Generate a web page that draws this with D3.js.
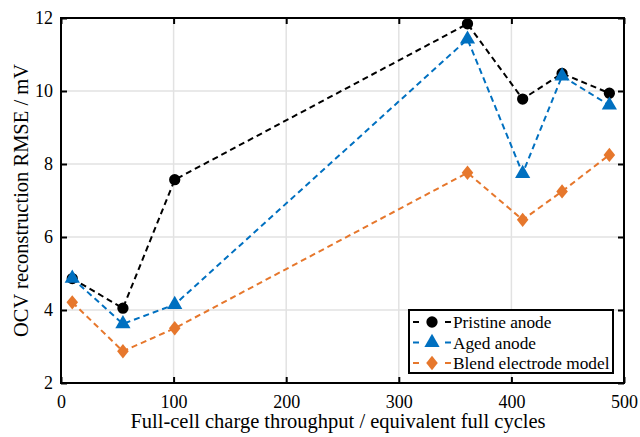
<!DOCTYPE html>
<html>
<head>
<meta charset="utf-8">
<script src="https://cdn.jsdelivr.net/npm/d3@7.9.0/dist/d3.min.js"></script>
<style>
  body { margin: 0; background: #fff; }
  svg { display: block; font-family: "Liberation Serif", "Times New Roman", serif; }
</style>
</head>
<body>
<svg id="chart" width="640" height="437"></svg>
<script>
// data
const cycles = [10, 55, 101, 361, 410, 445, 487];
const pristine = [4.86, 4.05, 7.57, 11.84, 9.78, 10.48, 9.94];
const aged = [4.87, 3.62, 4.15, 11.42, 7.74, 10.41, 9.61];
const blend = [4.21, 2.87, 3.5, 7.76, 6.47, 7.25, 8.25];
const seriesNames = ["Pristine anode", "Aged anode", "Blend electrode model"];
const xTicks = [0, 100, 200, 300, 400, 500];
const yTicks = [2, 4, 6, 8, 10, 12];

const FONT = "'Liberation Serif', 'Times New Roman', serif";
const svg = d3.select("#chart");
const plotL = 61, plotR = 624, plotT = 18, plotB = 383;

const x = d3.scaleLinear().domain([0, 500]).range([plotL, plotR]);
const y = d3.scaleLinear().domain([2, 12]).range([plotB, plotT]);

const colors = ["#000000", "#0070C0", "#E6772C"];
const shapes = [d3.symbolCircle, d3.symbolTriangle, d3.symbolDiamond];
const sizes = [100, 100, 60];
const stretch = ["", "", " scale(1.39,1)"];

// grid
svg.append("g").selectAll("line").data(xTicks.slice(1, -1)).enter().append("line")
  .attr("x1", d => x(d)).attr("x2", d => x(d)).attr("y1", plotT).attr("y2", plotB)
  .attr("stroke", "#e2e2e2").attr("stroke-width", 1.5);
svg.append("g").selectAll("line").data(yTicks.slice(1, -1)).enter().append("line")
  .attr("y1", d => y(d)).attr("y2", d => y(d)).attr("x1", plotL).attr("x2", plotR)
  .attr("stroke", "#e2e2e2").attr("stroke-width", 1.5);

// axes, ticks inward on all four sides
const axisStyle = g => {
  g.select(".domain").remove();
  g.attr("font-family", FONT);
  g.selectAll(".tick line").attr("stroke", "#000").attr("stroke-width", 2);
  g.selectAll(".tick text").attr("font-size", 18).attr("fill", "#000")
    .style("font-family", FONT);
};
svg.append("g").attr("transform", `translate(0,${plotB})`)
  .call(d3.axisBottom(x).tickValues(xTicks).tickSizeInner(-6).tickPadding(12).tickFormat(d3.format("d")))
  .call(axisStyle);
svg.append("g").attr("transform", `translate(0,${plotT})`)
  .call(d3.axisTop(x).tickValues(xTicks).tickSizeInner(-6).tickFormat(""))
  .call(axisStyle);
svg.append("g").attr("transform", `translate(${plotL},0)`)
  .call(d3.axisLeft(y).tickValues(yTicks).tickSizeInner(-6).tickPadding(8).tickFormat(d3.format("d")))
  .call(axisStyle);
svg.append("g").attr("transform", `translate(${plotR},0)`)
  .call(d3.axisRight(y).tickValues(yTicks).tickSizeInner(-6).tickFormat(""))
  .call(axisStyle);

svg.append("rect").attr("x", plotL).attr("y", plotT)
  .attr("width", plotR - plotL).attr("height", plotB - plotT)
  .attr("fill", "none").attr("stroke", "#000").attr("stroke-width", 2);

// series
const allSeries = [pristine, aged, blend];
const line = d3.line().x(d => x(d[0])).y(d => y(d[1]));
allSeries.forEach((vals, i) => {
  const pts = cycles.map((c, j) => [c, vals[j]]);
  svg.append("path").datum(pts).attr("d", line)
    .attr("fill", "none").attr("stroke", colors[i]).attr("stroke-width", 2)
    .attr("stroke-dasharray", "6,4");
  svg.append("g").selectAll("path").data(pts).enter().append("path")
    .attr("d", d3.symbol().type(shapes[i]).size(sizes[i]))
    .attr("transform", d => `translate(${x(d[0])},${y(d[1])})` + stretch[i])
    .attr("fill", colors[i]);
});

// legend
const lg = svg.append("g");
lg.append("rect").attr("x", 409).attr("y", 310).attr("width", 204).attr("height", 63)
  .attr("fill", "#fff").attr("stroke", "#000").attr("stroke-width", 2);
seriesNames.forEach((name, i) => {
  const ly = 322 + i * 20.5;
  lg.append("line").attr("x1", 413).attr("x2", 451).attr("y1", ly).attr("y2", ly)
    .attr("stroke", colors[i]).attr("stroke-width", 2).attr("stroke-dasharray", "6,26");
  lg.append("path").attr("d", d3.symbol().type(shapes[i]).size(sizes[i]))
    .attr("transform", `translate(432,${ly})` + stretch[i])
    .attr("fill", colors[i]);
  lg.append("text").attr("x", 453).attr("y", ly).attr("dy", "0.35em")
    .style("font-family", FONT).attr("font-size", 17.3).text(name);
});

// axis labels
svg.append("text").attr("x", 338).attr("y", 428)
  .attr("text-anchor", "middle").attr("font-size", 20.5).style("font-family", FONT)
  .text("Full-cell charge throughput / equivalent full cycles");
svg.append("text").attr("transform", `translate(28,${(plotT + plotB) / 2}) rotate(-90)`)
  .attr("text-anchor", "middle").attr("font-size", 20.5).style("font-family", FONT)
  .text("OCV reconstruction RMSE / mV");
</script>
</body>
</html>
